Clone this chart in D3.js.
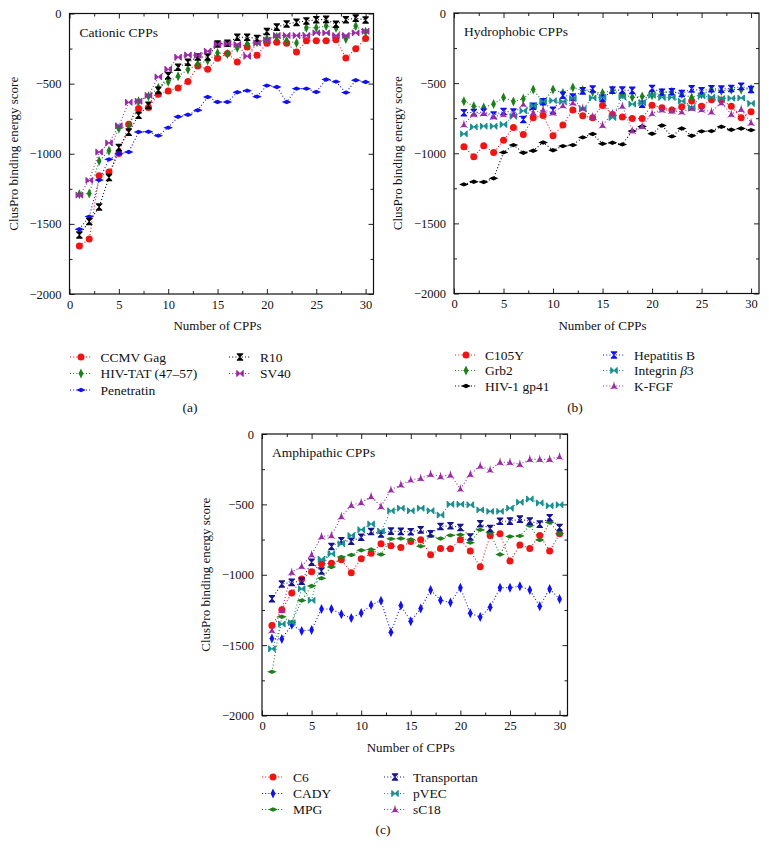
<!DOCTYPE html>
<html>
<head>
<meta charset="utf-8">
<script src="https://cdn.jsdelivr.net/npm/d3@7"></script>
<style>
body { margin: 0; background: #fff; }
svg { display: block; }
text { font-family: "Liberation Serif", "DejaVu Serif", serif; fill: #111; }
</style>
</head>
<body>
<svg id="chart" width="769" height="858"></svg>
<script>
// ---------- data ----------
const xValues = d3.range(1, 31);
const xMajorTicks = [0, 5, 10, 15, 20, 25, 30];
const xMinorTicks = [2.5, 7.5, 12.5, 17.5, 22.5, 27.5];
const yMajorTicks = [0, -500, -1000, -1500, -2000];
const yMinorTicks = [-250, -750, -1250, -1750];

// (a) Cationic CPPs
const ccmvGag = [-1657, -1607, -1157, -1131, -998, -790, -678, -670, -576, -552, -531, -485, -374, -398, -319, -286, -345, -238, -298, -212, -205, -212, -274, -195, -195, -195, -188, -317, -252, -179];
const hivTat = [-1288, -1284, -1052, -979, -820, -800, -625, -590, -530, -486, -448, -400, -360, -335, -281, -288, -245, -217, -205, -180, -167, -195, -210, -102, -102, -90, -102, -181, -90, -131];
const penetratin = [-1538, -1448, -1188, -1040, -1000, -988, -845, -843, -871, -814, -736, -722, -690, -595, -631, -631, -562, -550, -593, -514, -524, -631, -536, -536, -560, -471, -486, -564, -476, -488];
const r10 = [-1579, -1483, -1380, -1169, -956, -846, -726, -655, -548, -443, -383, -348, -310, -310, -217, -212, -169, -169, -178, -128, -97, -75, -63, -53, -45, -42, -77, -45, -33, -46];
const sv40 = [-1295, -1190, -988, -923, -800, -633, -626, -584, -452, -398, -312, -296, -298, -269, -219, -217, -221, -305, -210, -189, -157, -157, -157, -157, -138, -138, -157, -157, -138, -127];

// (b) Hydrophobic CPPs
const c105y = [-953, -1025, -946, -994, -908, -816, -866, -747, -730, -875, -799, -692, -733, -747, -659, -723, -742, -752, -752, -657, -676, -692, -669, -628, -664, -619, -621, -664, -747, -704];
const grb2 = [-629, -664, -674, -648, -603, -631, -612, -546, -636, -546, -570, -532, -551, -563, -570, -551, -580, -600, -595, -586, -566, -562, -578, -602, -580, -548, -556, -547, -545, -541];
const hiv1gp41 = [-1222, -1203, -1205, -1179, -994, -942, -996, -982, -923, -979, -949, -942, -887, -863, -932, -925, -937, -842, -809, -861, -802, -880, -823, -875, -844, -842, -811, -832, -823, -835];
const hepatitisB = [-711, -709, -707, -728, -702, -707, -759, -665, -633, -694, -586, -600, -555, -542, -609, -550, -550, -552, -651, -538, -565, -562, -574, -541, -555, -540, -543, -538, -523, -545];
const integrinB3 = [-862, -812, -807, -807, -795, -737, -698, -660, -630, -625, -631, -609, -685, -605, -602, -745, -597, -650, -640, -586, -602, -602, -628, -676, -590, -600, -609, -609, -605, -645];
const kFgf = [-795, -720, -715, -740, -723, -723, -650, -710, -690, -711, -660, -640, -680, -740, -800, -716, -664, -840, -808, -716, -690, -697, -704, -680, -688, -704, -640, -722, -686, -782];

// (c) Amphipathic CPPs
const c6 = [-1361, -1248, -1129, -1030, -978, -921, -919, -893, -985, -886, -848, -780, -794, -806, -763, -751, -858, -813, -815, -751, -832, -943, -721, -709, -903, -789, -813, -721, -832, -709];
const cady = [-1453, -1456, -1356, -1399, -1392, -1243, -1243, -1281, -1307, -1271, -1215, -1184, -1408, -1219, -1330, -1240, -1108, -1181, -1198, -1092, -1274, -1300, -1231, -1092, -1092, -1082, -1108, -1224, -1101, -1172];
const mpg = [-1690, -1298, -1337, -1183, -1080, -1025, -945, -874, -860, -826, -820, -856, -745, -742, -750, -797, -724, -742, -720, -716, -772, -681, -702, -856, -728, -724, -651, -753, -629, -709];
const transportan = [-1170, -1066, -1054, -1045, -911, -973, -799, -759, -762, -734, -693, -711, -690, -692, -695, -681, -709, -657, -652, -664, -732, -638, -671, -620, -619, -605, -619, -640, -595, -664];
const pvec = [-1526, -1350, -1340, -1099, -1182, -890, -852, -780, -720, -680, -639, -690, -545, -527, -545, -527, -545, -576, -499, -499, -503, -539, -550, -550, -527, -485, -462, -490, -510, -503];
const sc18 = [-1395, -1250, -983, -940, -858, -728, -721, -586, -506, -487, -444, -515, -397, -361, -326, -314, -286, -302, -291, -390, -286, -227, -255, -201, -201, -215, -180, -180, -180, -161];

// ---------- styles ----------
const RED = "#f01515", GREEN = "#1c7f1c", BLUE = "#1010f0", BLACK = "#000000",
      PURPLE = "#9a2aa6", TEAL = "#1a9090", NAVY = "#14148c";

const shapes = {
  circle: "M3.5,0A3.5,3.5,0,1,1,-3.5,0A3.5,3.5,0,1,1,3.5,0Z",
  vdiamond: "M0,-5L2.4,0L0,5L-2.4,0Z",
  hdiamond: "M-4.8,0L0,-2.2L4.8,0L0,2.2Z",
  hourglass: "M-3.2,-3.8L3.2,-3.8L3.2,-2.8L0.4,0L3.2,2.8L3.2,3.8L-3.2,3.8L-3.2,2.8L-0.4,0L-3.2,-2.8Z",
  bowtie: "M-3.8,-3.2L-3.8,3.2L-2.8,3.2L0,0.4L2.8,3.2L3.8,3.2L3.8,-3.2L2.8,-3.2L0,-0.4L-2.8,-3.2Z",
  tri: "M0,-5Q0.9,0.9,4.4,3.4Q0,1.5,-4.4,3.4Q-0.9,0.9,0,-5Z"
};

const panels = [
  { label: "(a)", title: "Cationic CPPs", left: 69.5, top: 13.5, width: 304, height: 280.5,
    labelPos: [190, 412],
    legend: { rows: [357, 373.5, 390], cols: [[70, 100.5], [229, 260]] },
    series: [
      { name: "CCMV Gag", values: ccmvGag, color: RED, shape: "circle", col: 0, row: 0 },
      { name: "HIV-TAT (47\u201357)", values: hivTat, color: GREEN, shape: "vdiamond", col: 0, row: 1 },
      { name: "Penetratin", values: penetratin, color: BLUE, shape: "hdiamond", col: 0, row: 2 },
      { name: "R10", values: r10, color: BLACK, shape: "hourglass", col: 1, row: 0 },
      { name: "SV40", values: sv40, color: PURPLE, shape: "bowtie", col: 1, row: 1 }
    ] },
  { label: "(b)", title: "Hydrophobic CPPs", left: 454, top: 13, width: 305, height: 280.5,
    labelPos: [575, 412],
    legend: { rows: [355, 370.5, 386], cols: [[455, 485], [603, 634]] },
    series: [
      { name: "C105Y", values: c105y, color: RED, shape: "circle", col: 0, row: 0 },
      { name: "Grb2", values: grb2, color: GREEN, shape: "vdiamond", col: 0, row: 1 },
      { name: "HIV-1 gp41", values: hiv1gp41, color: BLACK, shape: "hdiamond", col: 0, row: 2 },
      { name: "Hepatitis B", values: hepatitisB, color: BLUE, shape: "hourglass", col: 1, row: 0 },
      { name: "Integrin \u03B23", values: integrinB3, color: TEAL, shape: "bowtie", col: 1, row: 1, italicPart: true },
      { name: "K-FGF", values: kFgf, color: PURPLE, shape: "tri", col: 1, row: 2 }
    ] },
  { label: "(c)", title: "Amphipathic CPPs", left: 262, top: 434, width: 305.5, height: 281.5,
    labelPos: [383, 834],
    legend: { rows: [777, 793.5, 809.5], cols: [[262, 293], [384, 413]] },
    series: [
      { name: "C6", values: c6, color: RED, shape: "circle", col: 0, row: 0 },
      { name: "CADY", values: cady, color: BLUE, shape: "vdiamond", col: 0, row: 1 },
      { name: "MPG", values: mpg, color: GREEN, shape: "hdiamond", col: 0, row: 2 },
      { name: "Transportan", values: transportan, color: NAVY, shape: "hourglass", col: 1, row: 0 },
      { name: "pVEC", values: pvec, color: TEAL, shape: "bowtie", col: 1, row: 1 },
      { name: "sC18", values: sc18, color: PURPLE, shape: "tri", col: 1, row: 2 }
    ] }
];

const svg = d3.select("#chart");
const fmt = d3.format("");

panels.forEach(p => {
  const x = d3.scaleLinear().domain([0, 30.8]).range([p.left, p.left + p.width]);
  const y = d3.scaleLinear().domain([-2000, 0]).range([p.top + p.height, p.top]);
  const g = svg.append("g");

  // axes (ticks inward, mirrored on top/right)
  g.append("g").attr("transform", `translate(0,${p.top + p.height})`)
    .call(d3.axisBottom(x).tickValues(xMajorTicks).tickSize(-5).tickPadding(6).tickFormat(fmt));
  g.append("g").attr("transform", `translate(0,${p.top + p.height})`)
    .call(d3.axisBottom(x).tickValues(xMinorTicks).tickSize(-3).tickFormat(""));
  g.append("g").attr("transform", `translate(0,${p.top})`)
    .call(d3.axisTop(x).tickValues(xMajorTicks).tickSize(-5).tickFormat(""));
  g.append("g").attr("transform", `translate(0,${p.top})`)
    .call(d3.axisTop(x).tickValues(xMinorTicks).tickSize(-3).tickFormat(""));
  const left = g.append("g").attr("transform", `translate(${p.left},0)`)
    .call(d3.axisLeft(y).tickValues(yMajorTicks).tickSize(-5).tickPadding(7).tickFormat(fmt));
  g.append("g").attr("transform", `translate(${p.left},0)`)
    .call(d3.axisLeft(y).tickValues(yMinorTicks).tickSize(-3).tickFormat(""));
  g.append("g").attr("transform", `translate(${p.left + p.width},0)`)
    .call(d3.axisRight(y).tickValues(yMajorTicks).tickSize(-5).tickFormat(""));
  g.append("g").attr("transform", `translate(${p.left + p.width},0)`)
    .call(d3.axisRight(y).tickValues(yMinorTicks).tickSize(-3).tickFormat(""));
  g.selectAll(".domain").remove();
  g.selectAll(".tick line").attr("stroke", "#222").attr("stroke-width", 1);
  g.selectAll(".tick text").style("font-family", "'Liberation Serif', serif").style("font-size", "12.5px").attr("fill", "#111");
  left.selectAll(".tick text").attr("dx", "-1");

  // frame
  g.append("rect").attr("x", p.left).attr("y", p.top).attr("width", p.width).attr("height", p.height)
    .attr("fill", "none").attr("stroke", "#111").attr("stroke-width", 1.2);

  // axis titles
  g.append("text").attr("x", p.left + p.width / 2 - 4).attr("y", p.top + p.height + 36)
    .attr("text-anchor", "middle").style("font-size", "13px").text("Number of CPPs");
  g.append("text").attr("transform", `translate(${p.left - 52},${p.top + p.height / 2}) rotate(-90)`)
    .attr("text-anchor", "middle").style("font-size", "13px").text("ClusPro binding energy score");

  // inner title
  g.append("text").attr("x", p.left + 10).attr("y", p.top + 23)
    .style("font-size", "13.5px").text(p.title);

  // series
  const line = d3.line().x((d, i) => x(xValues[i])).y(d => y(d));
  p.series.forEach(s => {
    g.append("path").datum(s.values).attr("d", line)
      .attr("fill", "none").attr("stroke", s.color).attr("stroke-width", 1.1)
      .attr("stroke-dasharray", "1,2.2");
  });
  p.series.forEach(s => {
    g.append("g").selectAll("path").data(s.values).join("path")
      .attr("d", shapes[s.shape])
      .attr("transform", (d, i) => `translate(${x(xValues[i])},${y(d)})`)
      .attr("fill", s.color);
  });

  // legend
  p.series.forEach(s => {
    const [lx, tx] = p.legend.cols[s.col];
    const ly = p.legend.rows[s.row];
    g.append("line").attr("x1", lx).attr("x2", lx + 22).attr("y1", ly).attr("y2", ly)
      .attr("stroke", s.color).attr("stroke-width", 1.1).attr("stroke-dasharray", "1,2.2");
    g.append("path").attr("d", shapes[s.shape]).attr("transform", `translate(${lx + 11},${ly})`)
      .attr("fill", s.color);
    const t = g.append("text").attr("x", tx).attr("y", ly + 4.5).style("font-size", "13.5px");
    if (s.italicPart) {
      t.append("tspan").text("Integrin ");
      t.append("tspan").style("font-style", "italic").text("\u03B2");
      t.append("tspan").text("3");
    } else {
      t.text(s.name);
    }
  });

  // panel label
  svg.append("text").attr("x", p.labelPos[0]).attr("y", p.labelPos[1]).attr("text-anchor", "middle")
    .style("font-size", "13.5px").text(p.label);
});
</script>
</body>
</html>
